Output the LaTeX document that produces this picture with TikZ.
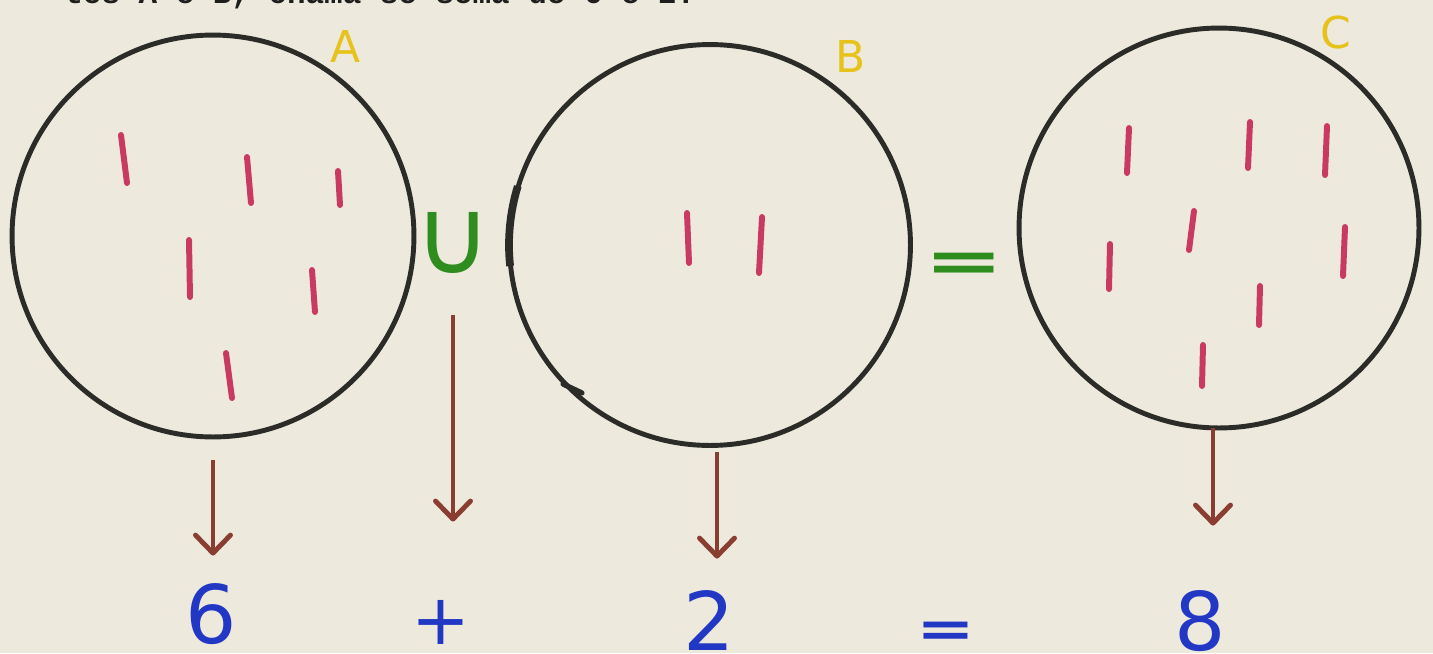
\documentclass[tikz,border=0pt]{standalone}
\usepackage{fontspec}
\setmainfont{DejaVu Sans}
\newfontfamily\typewriter{Liberation Mono}
\usetikzlibrary{arrows.meta, positioning}
\definecolor{cpaper}{HTML}{EEE9DD}
\definecolor{cink}{HTML}{2B2B28}
\definecolor{ctype}{HTML}{1E1E1C}
\definecolor{cpink}{HTML}{C83A62}
\definecolor{cbrown}{HTML}{8A3E32}
\definecolor{cblue}{HTML}{2238C4}
\definecolor{cgreen}{HTML}{2F8C1F}
\definecolor{cyellow}{HTML}{E6C21A}
\tikzset{
  every picture/.style={line width=2.8pt},
  set/.style={circle, draw=cink, line width=2.8pt, minimum size=#1, inner sep=0pt, outer sep=0pt},
  set/.default=8cm,
  setname/.style={text=cyellow, inner sep=0pt, font=\fontsize{25}{28}\selectfont},
  tally/.style={draw=cpink, line width=3.4pt, line cap=round},
  operator/.style={text=cgreen, inner sep=0pt},
  arrow/.style={-{Straight Barb[length=0.36cm, width=0.7cm, round]}, draw=cbrown, line width=2.8pt},
  count/.style={text=cblue, anchor=base, inner sep=0pt, font=\fontsize{46}{50}\selectfont},
}
\begin{document}
\begin{tikzpicture}[x=0.02cm, y=-0.02cm]
  \fill[cpaper] (0,0) rectangle (1433,653);
  \useasboundingbox (0,0) rectangle (1433,653);
  % typed line, cut by the top edge
  \node[anchor=base west, inner sep=0pt, text=ctype, font=\typewriter\bfseries\fontsize{17.6}{20}\selectfont] (typed) at (62,3) {tos A e B, chama-se soma de 6 e 2.};
  % the three sets
  \node[set=8.04cm] (cA) at (213,236) {};
  \node[set=8.02cm] (cB) at (710,245) {};
  \node[set] (cC) at (1219,228) {};
  \draw[cink, line width=4.4pt] ([shift={(197:201)}]cB.center) arc[start angle=197, end angle=174, radius=201];
  \draw[cink, line width=3pt, line cap=round] (563,384) -- (582,393);
  \node[setname] (lA) at (346,46) {A};
  \node[setname] (lB) at (851,56) {B};
  \node[setname] (lC) at (1336,33) {C};
  % elements of A, B and C
  \foreach \xa/\ya/\xb/\yb in {121/135/127/183, 247/157/251/203, 338/171/340/205,
      189/240/190/297, 312/270/315/312, 226/353/232/398}
    \draw[tally] (\xa,\ya) -- (\xb,\yb);
  \foreach \xa/\ya/\xb/\yb in {687/213/689/263, 762/217/759/273}
    \draw[tally] (\xa,\ya) -- (\xb,\yb);
  \foreach \xa/\ya/\xb/\yb in {1129/128/1127/173, 1250/122/1248/168, 1327/126/1325/175,
      1194/211/1189/250, 1110/244/1109/289, 1345/227/1343/276, 1260/286/1259/325, 1203/345/1202/386}
    \draw[tally] (\xa,\ya) -- (\xb,\yb);
  % union and equals between the sets
  \node[operator, font=\fontsize{60}{64}\selectfont] (union) at (453,243) {∪};
  \node[operator, font=\bfseries\fontsize{54}{58}\selectfont] (equal) at (964,267) {\scalebox{1}[0.62]{=}};
  % counts
  \node[count] (n6) at (211,643) {6};
  \node[count, anchor=center, font=\fontsize{40}{44}\selectfont] (nplus) at (441,622) {+};
  \node[count] (n2) at (709,650) {2};
  \node[count, font=\bfseries\fontsize{40}{44}\selectfont] (neq) at (946,646) {\scalebox{1}[0.72]{=}};
  \node[count] (n8) at (1200,650) {8};
  % arrows
  \draw[arrow, shorten <=0.46cm, shorten >=0.5cm] (cA.south) -- (cA.south |- n6.north);
  \draw[arrow, shorten <=0.78cm, shorten >=1.52cm] (union.south) -- (union.south |- nplus.north);
  \draw[arrow, shorten <=0.14cm, shorten >=0.58cm] ([xshift=0.14cm]cB.south) -- ([xshift=0.14cm]cB.south |- n2.north);
  \draw[arrow, shorten >=1.24cm] ([xshift=-0.12cm]cC.south) -- ([xshift=-0.12cm]cC.south |- n8.north);
\end{tikzpicture}
\end{document}
